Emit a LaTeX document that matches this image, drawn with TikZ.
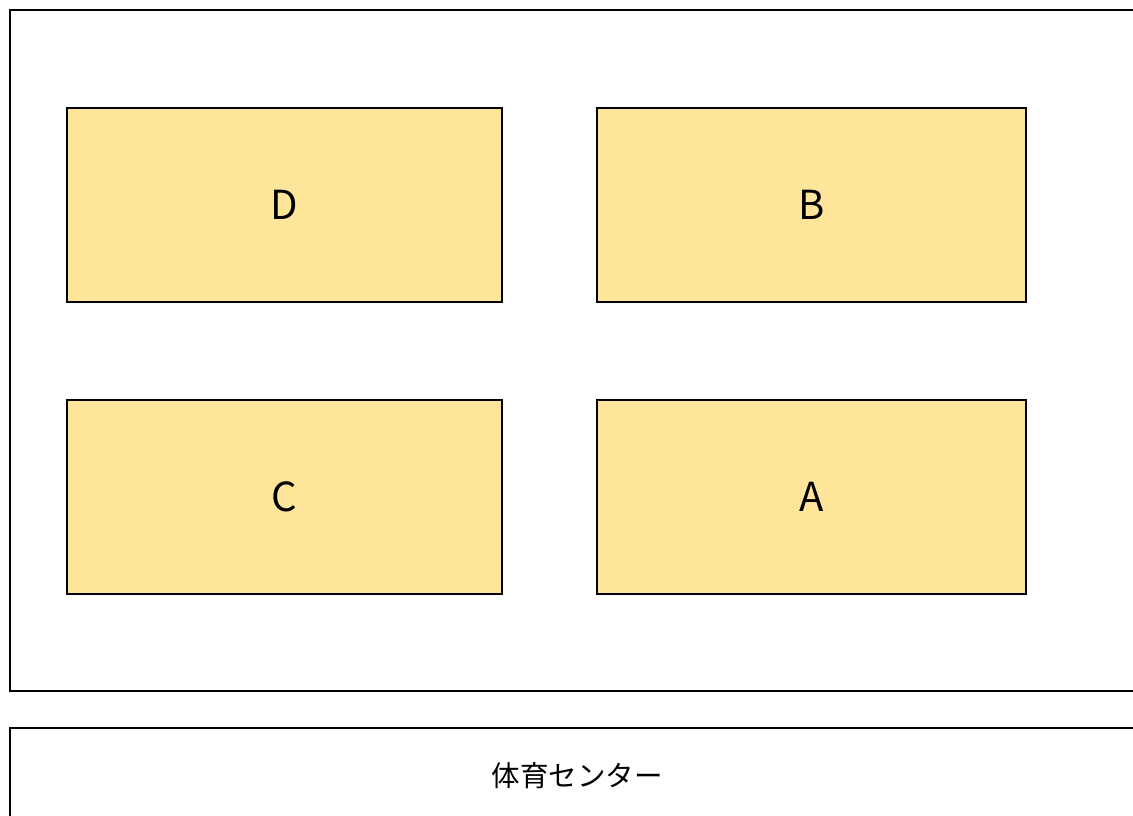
\documentclass[tikz,border=0pt]{standalone}
\usepackage{fontspec}
\setmainfont{Noto Sans CJK JP}
\usepackage{tikz}
\definecolor{court}{RGB}{255,229,153}

\begin{document}
\begin{tikzpicture}[x=1pt,y=-1pt,
  courtbox/.style={draw=black, line width=1.6pt, fill=court, minimum width=#1, minimum height=194pt, inner sep=0pt, font=\fontsize{40}{44}\selectfont},
  courtbox/.default=435pt]
\useasboundingbox (0,0) rectangle (1133,816);
\clip (0,0) rectangle (1133,816);

% hall
\draw [line width=1.8pt] (10,10) rectangle (1145,691);
\node [draw=black, line width=1.8pt, minimum width=1135pt, minimum height=110pt, inner sep=0pt, outer sep=0pt, anchor=north west] (center) at (10,728) {};
\node [font=\fontsize{28.5}{32}\selectfont] (centerlabel) at (577,776) {体育センター};

% courts
\node [courtbox] (D) at (284.5,205) {D};
\node [courtbox=429pt] (B) at (811.5,205) {B};
\node [courtbox] (C) at (284.5,497) {C};
\node [courtbox=429pt] (A) at (811.5,497) {A};

\end{tikzpicture}
\end{document}
